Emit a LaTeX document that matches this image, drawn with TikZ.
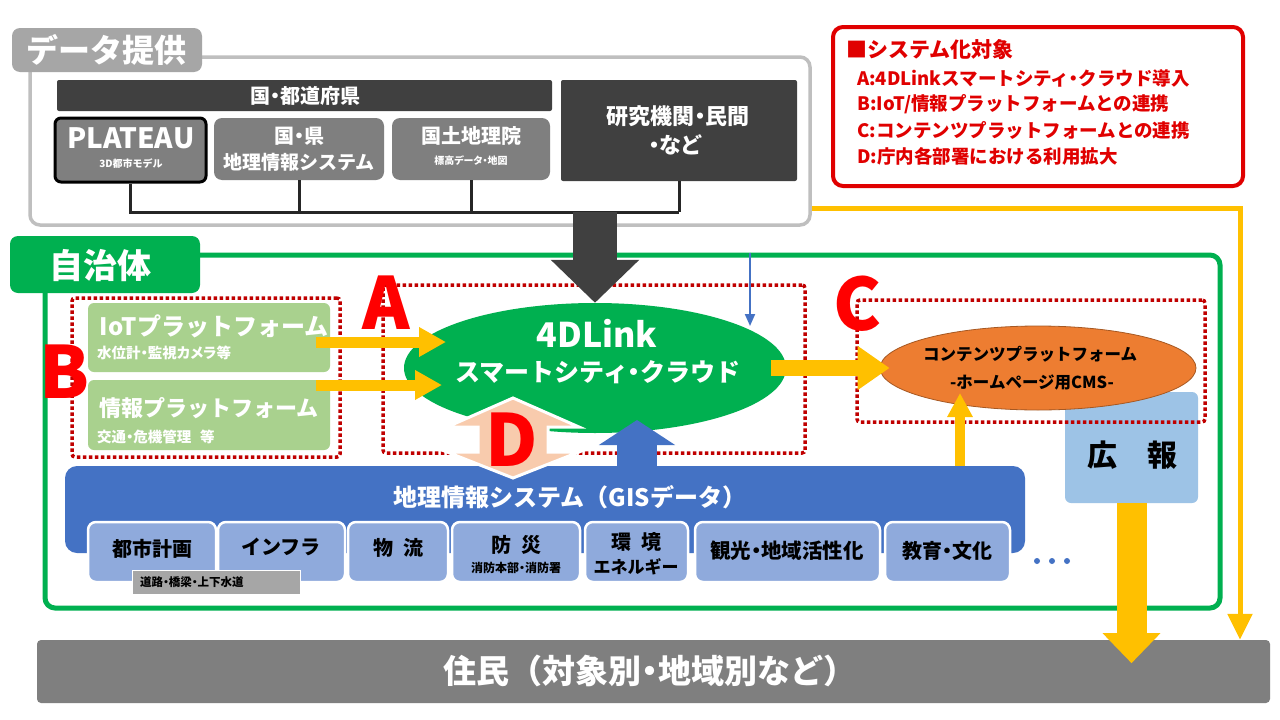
\documentclass[tikz,border=0pt]{standalone}
\usepackage{fontspec}
\setmainfont{Noto Sans CJK JP}
\newfontfamily\pfont{Noto Sans CJK JP}[RawFeature=+palt]
\usetikzlibrary{arrows.meta,shapes.geometric,fit}
\definecolor{dgray}{HTML}{404040}
\definecolor{mgray}{HTML}{7F7F7F}
\definecolor{lgray}{HTML}{BFBFBF}
\definecolor{tabgray}{HTML}{A6A6A6}
\definecolor{busc}{HTML}{262626}
\definecolor{redc}{HTML}{E00000}
\definecolor{dred}{HTML}{C00000}
\definecolor{gr}{HTML}{00B050}
\definecolor{lgreen}{HTML}{A9D18E}
\definecolor{yel}{HTML}{FFC000}
\definecolor{blu}{HTML}{4472C4}
\definecolor{sblu}{HTML}{8FAADC}
\definecolor{kblu}{HTML}{9DC3E6}
\definecolor{ora}{HTML}{ED7D31}
\definecolor{peach}{HTML}{F8CBAD}
\definecolor{roadg}{HTML}{A6A6A6}
\definecolor{bigred}{HTML}{FF0000}
\newcommand\myfs[2]{\fontsize{#1}{#2}\selectfont}
\begin{document}
\begin{tikzpicture}[x=1pt,y=-1pt,
  fbox/.style={inner sep=0pt},
  lbl/.style={inner sep=0pt, align=center, font=\bfseries},
  wl/.style={lbl, text=white},
  busline/.style={draw=busc, line width=3pt},
  dotbox/.style={draw=dred, line width=3.5pt, dash pattern=on 3.5pt off 2.5pt, rounded corners=3pt},
  bigletter/.style={inner sep=0pt, text=bigred, font=\bfseries\myfs{72}{72}},
  sub/.style={inner sep=0pt, fill=sblu, draw=white, line width=2.5pt, rounded corners=8pt},
  yarrow/.style={draw=yel},
]
\fill[white] (0,0) rectangle (1280,720);
\useasboundingbox (0,0) rectangle (1280,720);

% ---------- data provision ----------
\node[fbox, fit={(30,57) (810,225)}, draw=lgray, line width=3.5pt, rounded corners=10pt, fill=white] (dbox) {};
\node[fbox, fit={(12,28) (202,72)}, fill=tabgray, rounded corners=8pt] (dtab) {};
\node[wl, font=\bfseries\myfs{32}{36}] (dtabt) at (107,50) {データ提供};
\node[fbox, fit={(57,80) (552,111)}, fill=dgray, rounded corners=2pt] (kuni) {};
\node[wl, font=\bfseries\pfont\myfs{20}{24}] (kunit) at (305,96) {国・都道府県};
\node[fbox, fit={(55,118) (206,182)}, fill=mgray, draw=black, line width=3pt, rounded corners=6pt] (plateau) {};
\node[wl, font=\bfseries\myfs{28}{30}] (plateaut) at (131,138) {PLATEAU};
\node[wl, font=\bfseries\myfs{10}{12}] (plateaus) at (131,164) {3D都市モデル};
\node[fbox, fit={(214,118) (384,180)}, fill=mgray, rounded corners=8pt] (ken) {};
\node[wl, font=\bfseries\pfont\myfs{20}{24}] (kent1) at (299,136) {国・県};
\node[wl, font=\bfseries\myfs{19}{24}] (kent2) at (299,162) {地理情報システム};
\node[fbox, fit={(392,118) (550,180)}, fill=mgray, rounded corners=8pt] (gsi) {};
\node[wl, font=\bfseries\myfs{20}{24}] (gsit) at (471,136) {国土地理院};
\node[wl, font=\bfseries\pfont\myfs{10}{12}] (gsis) at (471,161) {標高データ・地図};
\node[fbox, fit={(561,80) (797,181)}, fill=dgray, rounded corners=2pt] (kenkyu) {};
\node[wl, font=\bfseries\pfont\myfs{22}{24}] (kenkyut1) at (678,116) {研究機関・民間};
\node[wl, font=\bfseries\pfont\myfs{22}{24}] (kenkyut2) at (675,145) {・など};
\path (kenkyu.south) ++(0,31) coordinate (bus);
\draw[busline] (plateau.south) |- (bus);
\draw[busline] (ken.south) -- (ken.south |- bus);
\draw[busline] (gsi.south) -- (gsi.south |- bus);
\draw[busline] (kenkyu.south) -- (bus);

% ---------- target box ----------
\node[fbox, fit={(833,27) (1243,186)}, draw=redc, line width=4pt, rounded corners=10pt, fill=white] (target) {};
\node[lbl, anchor=west, text=redc, font=\bfseries\myfs{21}{24}] (t0) at (846,50) {■システム化対象};
\node[lbl, anchor=west, text=redc, font=\bfseries\myfs{18.5}{22}] (t1) at (857,78) {A:4DLinkスマートシティ{\pfont ・}クラウド導入};
\node[lbl, anchor=west, text=redc, font=\bfseries\myfs{18.5}{22}] (t2) at (857,104) {B:IoT/情報プラットフォームとの連携};
\node[lbl, anchor=west, text=redc, font=\bfseries\myfs{18.5}{22}] (t3) at (857,130) {C:コンテンツプラットフォームとの連携};
\node[lbl, anchor=west, text=redc, font=\bfseries\myfs{18.5}{22}] (t4) at (857,156) {D:庁内各部署における利用拡大};

% ---------- residents ----------
\node[fbox, fit={(37,640) (1270,703)}, fill=mgray, rounded corners=4pt] (resident) {};
\node[wl, font=\bfseries\myfs{33}{36}] (residentt) at (650,671) {住民（対象別{\pfont ・}地域別など）};

% ---------- municipality ----------
\node[fbox, fit={(45,255) (1220,608)}, draw=gr, line width=5pt, rounded corners=10pt] (gbox) {};
\node[fbox, fit={(10,236) (200,293)}, fill=gr, rounded corners=8pt] (gtab) {};
\node[wl, font=\bfseries\myfs{34}{38}] (gtabt) at (100,266) {自治体};

\coordinate (ycorner) at (1240,208);
\draw[yarrow, line width=5pt, -{Triangle[width=24pt,length=26pt]}] (dbox.east |- ycorner) -- (ycorner) -- (ycorner |- resident.north);

% B
\node[fbox, fit={(72,298) (340,457)}, dotbox] (dotB) {};
\node[fbox, fit={(88,303) (330,372)}, fill=lgreen, rounded corners=6pt] (iot) {};
\node[wl, font=\bfseries\myfs{24}{26}] (iott) at (214,326) {IoTプラットフォーム};
\node[wl, anchor=west, font=\bfseries\pfont\myfs{14.5}{16}] (iots) at (97,353) {水位計・監視カメラ等};
\node[fbox, fit={(88,380) (330,450)}, fill=lgreen, rounded corners=6pt] (info) {};
\node[wl, font=\bfseries\myfs{22}{26}] (infot) at (209,408) {情報プラットフォーム};
\node[wl, anchor=west, font=\bfseries\pfont\myfs{14.5}{16}] (infos) at (97,437) {交通・危機管理\hspace{0.6em}等};

% kouhou, GIS
\node[fbox, fit={(1065,392) (1198,503)}, fill=kblu, rounded corners=6pt] (kouhou) {};
\node[lbl, font=\bfseries\myfs{30}{32}] (kouhout) at (1132,455) {広　報};
\node[fbox, fit={(65,466) (1025,553)}, fill=blu, rounded corners=12pt] (gis) {};
\node[wl, font=\bfseries\myfs{24}{26}] (gist) at (570,497) {地理情報システム（GISデータ）};

\node[sub, fit={(88,522) (216,582)}] (s1) {};
\node[sub, fit={(218,522) (345,582)}] (s2) {};
\node[sub, fit={(348,522) (448,582)}] (s3) {};
\node[sub, fit={(452,522) (580,582)}] (s4) {};
\node[sub, fit={(585,522) (688,582)}] (s5) {};
\node[sub, fit={(695,522) (880,582)}] (s6) {};
\node[sub, fit={(885,522) (1010,582)}] (s7) {};
\node[lbl, font=\bfseries\myfs{20}{24}] (s1t) at (152,549) {都市計画};
\node[lbl, font=\bfseries\myfs{20}{24}] (s2t) at (281,547) {インフラ};
\node[lbl, font=\bfseries\myfs{20}{24}] (s3t) at (398,548) {物\hspace{0.5em}流};
\node[lbl, font=\bfseries\myfs{20}{24}] (s4t) at (516,545) {防\hspace{0.5em}災};
\node[lbl, font=\bfseries\pfont\myfs{12}{14}] (s4s) at (516,568) {消防本部・消防署};
\node[lbl, font=\bfseries\myfs{20}{24}] (s5t) at (636,542) {環\hspace{0.5em}境};
\node[lbl, font=\bfseries\myfs{17}{20}] (s5s) at (636,567) {エネルギー};
\node[lbl, font=\bfseries\pfont\myfs{20.5}{24}] (s6t) at (787,551) {観光・地域活性化};
\node[lbl, font=\bfseries\pfont\myfs{20}{24}] (s7t) at (947,551) {教育・文化};
\node[fbox, fit={(132,570) (300,594)}, fill=roadg, draw=white, line width=1pt] (road) {};
\node[lbl, anchor=west, font=\bfseries\pfont\myfs{11.5}{13}] (roadt) at (140,582) {道路・橋梁・上下水道};
\foreach \i in {0,1,2} \fill[blu] (1037+15*\i,561) circle (3pt);

% A : cloud
\node[fbox, fit={(383,285) (805,453)}, dotbox] (dotA) {};
\node[ellipse, fill=gr, minimum width=382pt, minimum height=130pt, inner sep=0pt] (cloud) at (595,368) {};
\node[wl, font=\bfseries\myfs{34}{36}] (cloudt1) at (597,333) {4DLink};
\node[wl, font=\bfseries\myfs{25}{28}] (cloudt2) at (598,372) {スマートシティ{\pfont ・}クラウド};

\coordinate (b1s) at (316,342); \coordinate (b1e) at (446,342);
\coordinate (b2s) at (316,385); \coordinate (b2e) at (442,385);
\draw[yarrow, line width=11pt, -{Triangle[width=28pt,length=27pt]}] (b1s) -- (b1e);
\draw[yarrow, line width=11pt, -{Triangle[width=28pt,length=27pt]}] (b2s) -- (b2e);

\coordinate (bu) at (637,420);
\draw[draw=blu, line width=40pt, -{Triangle[width=75pt,length=25pt]}] (bu |- gis.north) -- (bu);

\filldraw[fill=peach, draw=white, line width=3pt] (513,398) -- (579,427) -- (548,427) -- (548,452) -- (579,452) -- (513,478) -- (447,452) -- (478,452) -- (478,427) -- (447,427) -- cycle;

% C
\node[ellipse, fill=ora, draw=ora!70!black, line width=0.8pt, minimum width=316pt, minimum height=84pt, inner sep=0pt] (cms) at (1038,368) {};
\node[lbl, font=\bfseries\myfs{16.5}{20}] (cmst1) at (1030,354) {コンテンツプラットフォーム};
\node[lbl, font=\bfseries\myfs{16.5}{20}] (cmst2) at (1032,382) {-ホームページ用CMS-};
\node[fbox, fit={(857,300) (1205,422)}, dotbox] (dotC) {};

\draw[yarrow, line width=16pt, -{Triangle[width=42pt,length=32pt]}] ([xshift=-15pt]cloud.east) -- ([xshift=10pt]cms.west);
\coordinate (cu) at (960,393);
\draw[yarrow, line width=10pt, -{Triangle[width=24pt,length=24pt]}] (cu |- gis.north) -- (cu);
\path (kouhou.south) ++(0,160) coordinate (kend);
\draw[yarrow, line width=30pt, -{Triangle[width=56pt,length=30pt]}] (kouhou.south) -- (kend);

\draw[draw=dgray, line width=44pt, -{Triangle[width=86pt,length=43pt]}] (cloud.north |- bus) -- (cloud.north);
\coordinate (bt) at (750,326);
\draw[draw=blu, line width=2pt, -{Triangle[width=10pt,length=12pt]}] (bt |- gbox.north) -- (bt);

\node[bigletter] (LA) at (386,303) {A};
\node[bigletter] (LB) at (65,372) {B};
\node[bigletter] (LC) at (858,304) {C};
\node[bigletter] (LD) at (512,440) {D};
\end{tikzpicture}
\end{document}
